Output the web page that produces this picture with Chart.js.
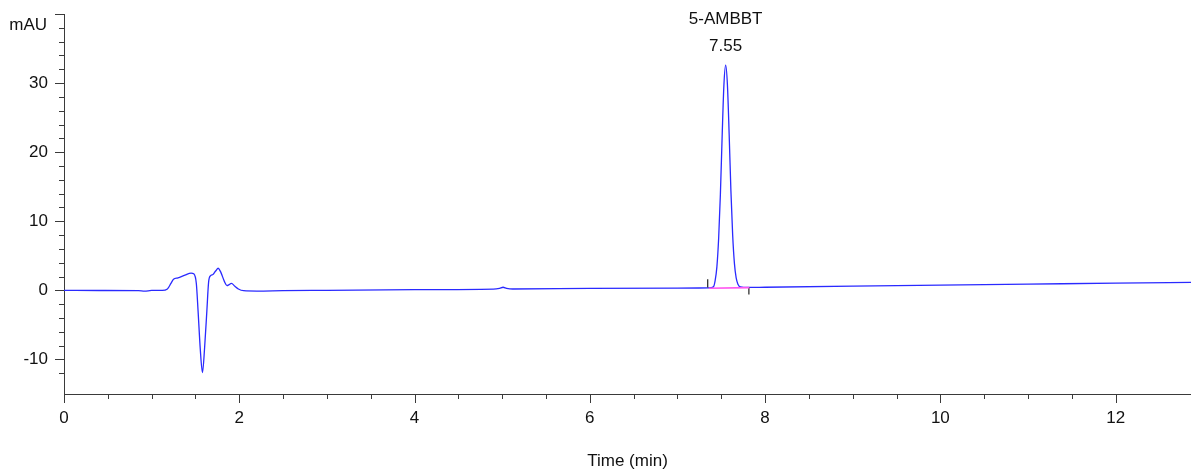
<!DOCTYPE html>
<html>
<head>
<meta charset="utf-8">
<title>5-AMBBT chromatogram</title>
<script src="https://cdn.jsdelivr.net/npm/chart.js@4.4.1/dist/chart.umd.min.js"></script>
<style>
  body { margin: 0; background: #fff; }
  #chart { display: block; }
</style>
</head>
<body>
<canvas id="chart" width="1191" height="470"></canvas>
<script>
// DATA
const times = [
  0, 0.4, 0.85, 0.92, 1.0, 1.12, 1.18, 1.22, 1.25, 1.3, 1.38, 1.45, 1.48,
  1.51, 1.53, 1.555, 1.58, 1.605, 1.63, 1.65, 1.67, 1.7, 1.73, 1.76, 1.79,
  1.83, 1.86, 1.88, 1.91, 1.95, 1.99, 2.05, 2.2, 2.5, 3.0, 4.0, 4.9, 4.97,
  5.01, 5.05, 5.12, 6.0, 7.0, 7.36, 7.41, 7.43, 7.45, 7.47, 7.49, 7.51, 7.53,
  7.55, 7.57, 7.59, 7.61, 7.63, 7.65, 7.67, 7.69, 7.72, 7.8, 8.0, 9.0, 10.0,
  11.0, 12.0, 12.86
];
const mau = [
  0, -0.02, -0.05, -0.12, 0, 0, 0.2, 1.0, 1.6, 1.8, 2.2, 2.5, 2.4,
  1.0, -3.0, -8.5, -11.9, -8.2, -3.0, 1.2, 2.1, 2.3, 2.8, 3.2, 2.6,
  1.3, 0.7, 0.8, 1.0, 0.6, 0.2, -0.05, -0.1, -0.05, 0, 0.1, 0.18, 0.3,
  0.45, 0.3, 0.2, 0.28, 0.32, 0.36, 0.5, 1.4, 3.4, 7.5, 13.9, 22.3, 29.7,
  32.6, 29.8, 22.6, 14.4, 8.0, 3.9, 1.8, 0.9, 0.5, 0.42, 0.45, 0.6, 0.75,
  0.9, 1.05, 1.15
];

// integration baseline and its start/end marks
const baselineTimes = [7.36, 7.82];
const baselineMau = [0.3, 0.4];
const markTimes = [7.345, 7.815];
const markTop = [1.6, 0.4];
const markBottom = [0.4, -0.6];

// peak label
const peakName = "5-AMBBT";
const peakTime = 7.55;
const peakHeight = 32.6;

// axes
const xMax = 12.86;
const yMin = -15;
const yMax = 40;
const yUnit = "mAU";
const xTitle = "Time (min)";

Chart.defaults.font.family = "'Liberation Sans', Arial, sans-serif";
Chart.defaults.font.size = 17;
Chart.defaults.color = "#111";

const traceData = times.map((t, i) => ({ x: t, y: mau[i] }));
const baselineData = baselineTimes.map((t, i) => ({ x: t, y: baselineMau[i] }));

const markSets = markTimes.map((t, i) => ({
  data: [{ x: t, y: markTop[i] }, { x: t, y: markBottom[i] }],
  borderColor: "#333",
  borderWidth: 1.3,
  pointRadius: 0,
  order: 0
}));

function isStep(v, step) {
  return Math.abs(v / step - Math.round(v / step)) < 1e-6;
}

// no extra room for the end labels, the plot runs to the edges
function noPad(s) {
  s.paddingLeft = 0;
  s.paddingRight = 0;
  s.paddingTop = 0;
  s.paddingBottom = 0;
}

// tick marks (major longer than minor), unit label and peak label
const extrasPlugin = {
  id: "extras",
  afterDraw(chart) {
    const ctx = chart.ctx;
    const xs = chart.scales.x;
    const ys = chart.scales.y;
    const area = chart.chartArea;
    ctx.save();
    ctx.strokeStyle = "#3a3a3a";
    ctx.lineWidth = 1;
    ctx.beginPath();
    xs.ticks.forEach((tk) => {
      if (!isStep(tk.value, 0.5)) return;
      const px = Math.round(xs.getPixelForValue(tk.value)) + 0.5;
      const len = isStep(tk.value, 2) ? 9 : 5;
      ctx.moveTo(px, area.bottom);
      ctx.lineTo(px, area.bottom + len);
    });
    ys.ticks.forEach((tk) => {
      if (!isStep(tk.value, 2)) return;
      const py = Math.round(ys.getPixelForValue(tk.value)) + 0.5;
      const len = isStep(tk.value, 10) ? 9 : 5;
      ctx.moveTo(area.left - len, py);
      ctx.lineTo(area.left, py);
    });
    ctx.stroke();

    ctx.fillStyle = "#111";
    ctx.font = "17px 'Liberation Sans', Arial, sans-serif";
    ctx.textAlign = "right";
    ctx.textBaseline = "middle";
    ctx.fillText(yUnit, 47, 25);

    const px = xs.getPixelForValue(peakTime);
    const py = ys.getPixelForValue(peakHeight);
    ctx.textAlign = "center";
    ctx.fillText(peakName, px, py - 46);
    ctx.fillText(peakTime.toFixed(2), px, py - 19);
    ctx.restore();
  }
};

new Chart(document.getElementById("chart"), {
  type: "line",
  data: {
    datasets: [
      {
        data: traceData,
        borderColor: "#2a2aff",
        borderWidth: 1.3,
        pointRadius: 0,
        cubicInterpolationMode: "monotone",
        order: 1
      },
      {
        data: baselineData,
        borderColor: "#ff55f0",
        borderWidth: 1.6,
        pointRadius: 0,
        order: 0
      },
      ...markSets
    ]
  },
  options: {
    responsive: false,
    animation: false,
    layout: { padding: { top: 14, left: 0, right: 0, bottom: 0 } },
    plugins: { legend: { display: false }, tooltip: { enabled: false } },
    scales: {
      x: {
        type: "linear",
        min: 0,
        max: xMax,
        grid: { display: false, drawTicks: false },
        border: { display: true, color: "#3a3a3a", width: 1 },
        ticks: {
          stepSize: 0.5,
          autoSkip: false,
          maxRotation: 0,
          padding: 14,
          callback: (v) => (isStep(v, 2) ? v : "")
        },
        title: { display: true, text: xTitle, padding: { top: 0, bottom: -2 } },
        afterFit: (s) => { s.height = 76; noPad(s); }
      },
      y: {
        min: yMin,
        max: yMax,
        grid: { display: false, drawTicks: false },
        border: { display: true, color: "#3a3a3a", width: 1 },
        ticks: {
          stepSize: 2,
          autoSkip: false,
          padding: 16,
          callback: (v) => (isStep(v, 10) && v !== yMax ? v : "")
        },
        afterFit: (s) => { s.width = 64; noPad(s); }
      }
    }
  },
  plugins: [extrasPlugin]
});
</script>
</body>
</html>
